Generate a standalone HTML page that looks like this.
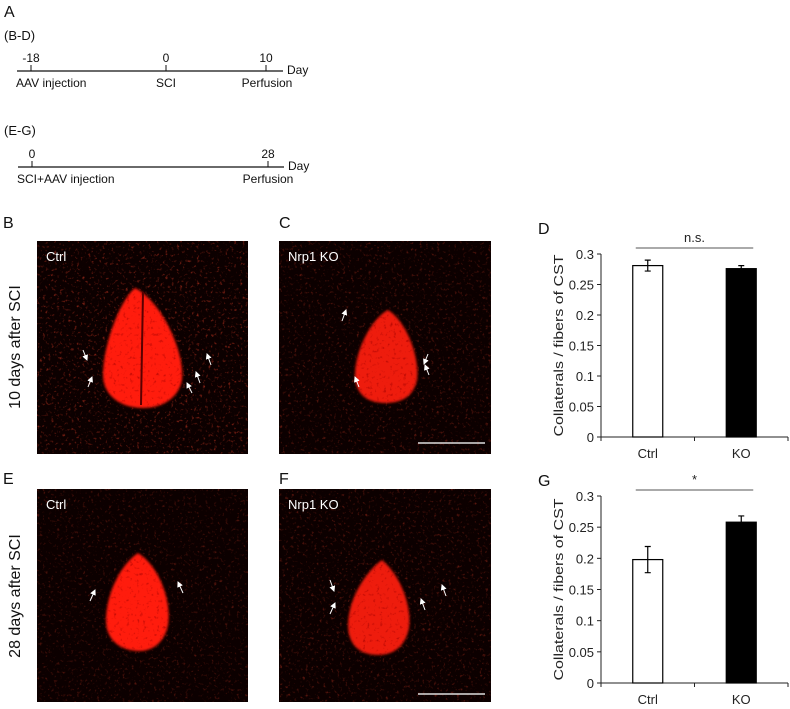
<!DOCTYPE html>
<html><head><meta charset="utf-8">
<style>
body{margin:0;background:#fff;}
svg{display:block;font-family:"Liberation Sans",sans-serif;}
</style></head>
<body>
<svg width="790" height="709" viewBox="0 0 790 709" xmlns="http://www.w3.org/2000/svg">
<defs>
<filter id="blur2"><feGaussianBlur stdDeviation="1.2"/></filter>
<filter id="speck" x="0" y="0" width="100%" height="100%">
<feTurbulence type="fractalNoise" baseFrequency="0.35" numOctaves="2" seed="3" result="n"/>
<feColorMatrix type="matrix" values="0 0 0 0 0.8  0 0 0 0 0.05  0 0 0 0 0.02  0 0 0 3.2 -1.9" in="n"/>
</filter>
<filter id="speckIn" x="0" y="0" width="100%" height="100%">
<feTurbulence type="fractalNoise" baseFrequency="0.3" numOctaves="2" seed="7" result="n"/>
<feColorMatrix type="matrix" values="0 0 0 0 0.35  0 0 0 0 0  0 0 0 0 0  0 0 0 3 -1.8" in="n"/>
</filter>
<clipPath id="cb"><path d="M135,288 C160,300 185,350 182,380 C178,400 160,408 143,408 C120,408 103,395 103,375 C103,345 120,300 135,288 Z"/></clipPath>
<clipPath id="cc"><path d="M388,310 C405,320 420,355 417,380 C413,398 400,403 385,403 C365,403 355,392 355,375 C355,350 372,318 388,310 Z"/></clipPath>
<clipPath id="ce"><path d="M138,553 C158,565 172,600 168,625 C164,645 150,651 140,651 C120,651 106,640 106,620 C106,595 120,565 138,553 Z"/></clipPath>
<clipPath id="cf"><path d="M382,560 C400,575 412,605 409,628 C405,648 392,655 378,655 C360,655 348,645 348,625 C348,600 365,572 382,560 Z"/></clipPath>
<marker id="ah" markerWidth="6" markerHeight="6" refX="5" refY="3" orient="auto"><path d="M0,0 L6,3 L0,6 z" fill="#fff"/></marker>
</defs>
<g fill="#111">
<text x="4" y="17" font-size="16">A</text>
<text x="4" y="40" font-size="13">(B-D)</text>
<line x1="17" y1="71" x2="283" y2="71" stroke="#111" stroke-width="1.2"/>
<line x1="31" y1="65" x2="31" y2="71" stroke="#111"/><line x1="166" y1="65" x2="166" y2="71" stroke="#111"/><line x1="266" y1="65" x2="266" y2="71" stroke="#111"/>
<text x="31" y="62" text-anchor="middle" font-size="12">-18</text>
<text x="166" y="62" text-anchor="middle" font-size="12">0</text>
<text x="266" y="62" text-anchor="middle" font-size="12">10</text>
<text x="287" y="74" font-size="12">Day</text>
<text x="16" y="87" font-size="12">AAV injection</text>
<text x="166" y="87" text-anchor="middle" font-size="12">SCI</text>
<text x="267" y="87" text-anchor="middle" font-size="12">Perfusion</text>
<text x="4" y="135" font-size="13">(E-G)</text>
<line x1="18" y1="167" x2="284" y2="167" stroke="#111" stroke-width="1.2"/>
<line x1="32" y1="161" x2="32" y2="167" stroke="#111"/><line x1="268" y1="161" x2="268" y2="167" stroke="#111"/>
<text x="32" y="158" text-anchor="middle" font-size="12">0</text>
<text x="268" y="158" text-anchor="middle" font-size="12">28</text>
<text x="288" y="170" font-size="12">Day</text>
<text x="17" y="183" font-size="12">SCI+AAV injection</text>
<text x="268" y="183" text-anchor="middle" font-size="12">Perfusion</text>
</g>
<g font-size="16" fill="#111">
<text x="3" y="228">B</text>
<text x="279" y="228">C</text>
<text x="538" y="234">D</text>
<text x="3" y="484">E</text>
<text x="279" y="484">F</text>
<text x="538" y="486">G</text>
<text transform="translate(20,347) rotate(-90)" text-anchor="middle" font-size="16">10 days after SCI</text>
<text transform="translate(20,596) rotate(-90)" text-anchor="middle" font-size="16">28 days after SCI</text>
</g>
<g>
<rect x="37" y="241" width="211" height="213" fill="#0c0000"/>
<rect x="37" y="241" width="211" height="213" filter="url(#speck)" opacity="0.6"/>
<path d="M135,288 C160,300 185,350 182,380 C178,400 160,408 143,408 C120,408 103,395 103,375 C103,345 120,300 135,288 Z" fill="#ff1a0a" filter="url(#blur2)"/>
<rect x="100" y="285" width="85" height="125" filter="url(#speckIn)" clip-path="url(#cb)" opacity="0.7"/>
<line x1="143" y1="292" x2="141" y2="405" stroke="#5a0000" stroke-width="2"/>
<text x="46" y="261" fill="#fff" font-size="13">Ctrl</text>
<line x1="83" y1="350" x2="87" y2="360" stroke="#fff" marker-end="url(#ah)"/>
<line x1="88" y1="387" x2="92" y2="377" stroke="#fff" marker-end="url(#ah)"/>
<line x1="192" y1="393" x2="187" y2="383" stroke="#fff" marker-end="url(#ah)"/>
<line x1="200" y1="383" x2="196" y2="372" stroke="#fff" marker-end="url(#ah)"/>
<line x1="211" y1="365" x2="207" y2="354" stroke="#fff" marker-end="url(#ah)"/>
</g>
<g>
<rect x="279" y="241" width="212" height="213" fill="#0c0000"/>
<rect x="279" y="241" width="212" height="213" filter="url(#speck)" opacity="0.4"/>
<path d="M388,310 C405,320 420,355 417,380 C413,398 400,403 385,403 C365,403 355,392 355,375 C355,350 372,318 388,310 Z" fill="#ee1a0a" filter="url(#blur2)"/>
<rect x="350" y="305" width="72" height="102" filter="url(#speckIn)" clip-path="url(#cc)" opacity="0.8"/>
<text x="288" y="261" fill="#fff" font-size="13">Nrp1 KO</text>
<line x1="342" y1="321" x2="346" y2="310" stroke="#fff" marker-end="url(#ah)"/>
<line x1="359" y1="387" x2="355" y2="377" stroke="#fff" marker-end="url(#ah)"/>
<line x1="428" y1="354" x2="424" y2="364" stroke="#fff" marker-end="url(#ah)"/>
<line x1="429" y1="375" x2="425" y2="365" stroke="#fff" marker-end="url(#ah)"/>
<line x1="418" y1="443" x2="485" y2="443" stroke="#ddd" stroke-width="1.5"/>
</g>
<g>
<rect x="37" y="489" width="211" height="213" fill="#0c0000"/>
<rect x="37" y="489" width="211" height="213" filter="url(#speck)" opacity="0.35"/>
<path d="M138,553 C158,565 172,600 168,625 C164,645 150,651 140,651 C120,651 106,640 106,620 C106,595 120,565 138,553 Z" fill="#ff1a0a" filter="url(#blur2)"/>
<rect x="100" y="550" width="75" height="105" filter="url(#speckIn)" clip-path="url(#ce)" opacity="0.7"/>
<line x1="90" y1="601" x2="95" y2="590" stroke="#fff" marker-end="url(#ah)"/>
<line x1="183" y1="593" x2="178" y2="582" stroke="#fff" marker-end="url(#ah)"/>
<text x="46" y="509" fill="#fff" font-size="13">Ctrl</text>
</g>
<g>
<rect x="279" y="489" width="212" height="213" fill="#0c0000"/>
<rect x="279" y="489" width="212" height="213" filter="url(#speck)" opacity="0.4"/>
<path d="M382,560 C400,575 412,605 409,628 C405,648 392,655 378,655 C360,655 348,645 348,625 C348,600 365,572 382,560 Z" fill="#ee1a0a" filter="url(#blur2)"/>
<rect x="343" y="555" width="72" height="105" filter="url(#speckIn)" clip-path="url(#cf)" opacity="0.8"/>
<text x="288" y="509" fill="#fff" font-size="13">Nrp1 KO</text>
<line x1="330" y1="580" x2="334" y2="591" stroke="#fff" marker-end="url(#ah)"/>
<line x1="330" y1="614" x2="335" y2="603" stroke="#fff" marker-end="url(#ah)"/>
<line x1="425" y1="610" x2="421" y2="599" stroke="#fff" marker-end="url(#ah)"/>
<line x1="446" y1="596" x2="442" y2="585" stroke="#fff" marker-end="url(#ah)"/>
<line x1="418" y1="694" x2="485" y2="694" stroke="#ddd" stroke-width="1.5"/>
</g>
<g id="chartD"></g>
<g id="chartG"></g>
</svg>
<script>
const categories = ["Ctrl", "KO"];
const dValues = [0.281, 0.276];
const dErrors = [0.009, 0.005];
const gValues = [0.198, 0.258];
const gErrors = [0.021, 0.010];
const yTicks = [0, 0.05, 0.1, 0.15, 0.2, 0.25, 0.3];
const yTickLabels = ["0", "0.05", "0.1", "0.15", "0.2", "0.25", "0.3"];
const dSig = "n.s.";
const gSig = "*";

const NS = "http://www.w3.org/2000/svg";
function mk(parent, tag, attrs) {
  const e = document.createElementNS(NS, tag);
  for (const k in attrs) e.setAttribute(k, attrs[k]);
  parent.appendChild(e);
  return e;
}
function drawChart(id, values, errors, sig, y0, y30, name) {
  const g = document.getElementById(id);
  
  
  const x0 = 601, x1 = 788;
  const yScale = v => y0 - (v / 0.3) * (y0 - y30);
  const bandW = (x1 - x0) / categories.length;
  const xCenter = i => x0 + bandW * (i + 0.5);
  const barW = 30;
  const yAxis = mk(g, 'line', {x1: x0, y1: yScale(0), x2: x0, y2: yScale(0.3), stroke: '#222', 'stroke-width': 1});
  
  
  const xAxis = mk(g, 'line', {x1: x0, y1: y0, x2: x1, y2: y0, stroke: '#222', 'stroke-width': 1});
  
  
  for (let i = 0; i <= categories.length; i++) {
    mk(g, 'line', {x1: x0 + bandW * i, y1: y0, x2: x0 + bandW * i, y2: y0 + 4, stroke: '#222'});
  }
  yTicks.forEach((t, i) => {
    mk(g, 'line', {x1: x0 - 4, y1: yScale(t), x2: x0, y2: yScale(t), stroke: '#222'});
    const tx = mk(g, 'text', {x: x0 - 7, y: yScale(t) + 5, 'text-anchor': 'end', 'font-size': 13, fill: '#222'});
    tx.textContent = yTickLabels[i];
    
    
  });
  const title = mk(g, 'text', {transform: `translate(563,${(y0 + y30) / 2}) rotate(-90)`, 'text-anchor': 'middle', 'font-size': 13, fill: '#222', textLength: 182, lengthAdjust: 'spacingAndGlyphs'});
  title.textContent = 'Collaterals / fibers of CST';
  
  
  categories.forEach((c, i) => {
    const cx = xCenter(i);
    const bar = mk(g, 'rect', {x: cx - barW / 2, y: yScale(values[i]), width: barW, height: y0 - yScale(values[i]), fill: i === 0 ? '#fff' : '#000', stroke: '#000', 'stroke-width': 1.2});
    
    
    const eTop = yScale(values[i] + errors[i]), eBot = yScale(values[i] - errors[i]);
    const err = mk(g, 'path', {d: `M${cx},${eTop}V${i === 0 ? eBot : yScale(values[i])}M${cx - 3},${eTop}H${cx + 3}` + (i === 0 ? `M${cx - 3},${eBot}H${cx + 3}` : ''), stroke: '#000', 'stroke-width': 1.2, fill: 'none'});
    
    
    const lb = mk(g, 'text', {x: cx, y: y0 + 21, 'text-anchor': 'middle', 'font-size': 13, fill: '#222'});
    lb.textContent = c;
    
    
  });
  const sy = y30 - 6;
  const sl = mk(g, 'line', {x1: xCenter(0) - 12, y1: sy, x2: xCenter(1) + 12, y2: sy, stroke: '#555', 'stroke-width': 1});
  
  
  const st = mk(g, 'text', {x: (xCenter(0) + xCenter(1)) / 2, y: sy - 6, 'text-anchor': 'middle', 'font-size': 13, fill: '#222'});
  st.textContent = sig;
  
  
}
drawChart('chartD', dValues, dErrors, dSig, 437, 254, 'chart-d');
drawChart('chartG', gValues, gErrors, gSig, 683, 496, 'chart-g');
</script>
</body></html>
